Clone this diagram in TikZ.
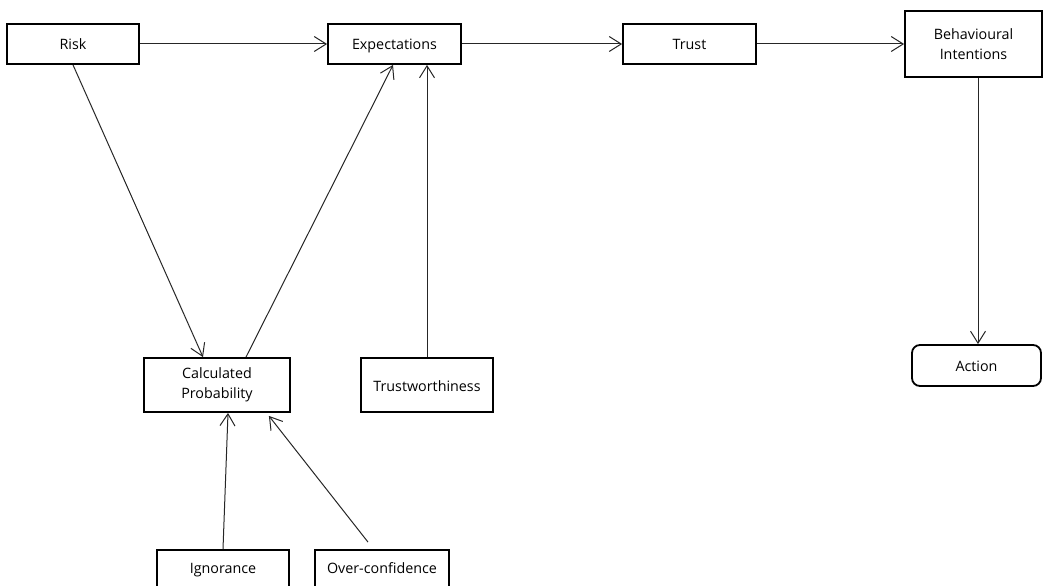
\documentclass[tikz,border=0pt]{standalone}
\usepackage{fontspec}
\setmainfont{Open Sans}
\usetikzlibrary{arrows.meta}
\begin{document}
\begin{tikzpicture}[x=1pt,y=-1pt,
  box/.style={draw=black, line width=1.8pt, fill=white, align=center, inner sep=0pt, font=\fontsize{14.3}{20.5}\selectfont},
  one/.style={text height=14.5pt, text depth=2.5pt},
  arr/.style={draw=black!85, line width=1pt, -{Straight Barb[length=12pt,width=15pt,line width=1pt]}}]
\useasboundingbox (0,0) rectangle (1044,586);
\clip (0,0) rectangle (1044,586);
\node[box, one, minimum width=132pt, minimum height=40pt] (risk) at (73,44) {Risk};
\node[box, one, minimum width=133pt, minimum height=40pt] (exp) at (394.5,44) {Expectations};
\node[box, one, minimum width=133pt, minimum height=40pt] (trust) at (689.5,44) {Trust};
\node[box, minimum width=137pt, minimum height=66pt] (bi) at (973.5,44) {Behavioural\\Intentions};
\node[box, one, rounded corners=8pt, minimum width=129pt, minimum height=41pt] (action) at (976.5,365.5) {Action};
\node[box, minimum width=146pt, minimum height=54pt] (cp) at (217,385) {Calculated\\Probability};
\node[box, one, minimum width=132pt, minimum height=54pt] (tw) at (427,385) {Trustworthiness};
\node[box, minimum width=132pt, minimum height=50pt, text height=14.5pt, text depth=18pt] (ign) at (223,575) {Ignorance};
\node[box, minimum width=134pt, minimum height=50pt, text height=14.5pt, text depth=18pt] (oc) at (382,575) {Over-confidence};
\draw[arr] (risk.east) -- (exp.west);
\draw[arr] (exp.east) -- (trust.west);
\draw[arr] (trust.east) -- (bi.west);
\draw[arr] ([xshift=4.5pt]bi.south) -- ([xshift=4.5pt]bi.south |- action.north);
\draw[arr] (risk.south) -- ([xshift=-14pt]cp.north);
\draw[arr] ([xshift=29pt]cp.north) -- ([xshift=-1.5pt]exp.south);
\draw[arr] (tw.north) -- (tw.north |- exp.south);
\draw[arr] (ign.north) -- ([xshift=11pt]cp.south);
\draw[arr] ([xshift=-14pt,yshift=7pt]oc.north) -- ([xshift=-22pt,yshift=-3pt]cp.south east);
\end{tikzpicture}
\end{document}
